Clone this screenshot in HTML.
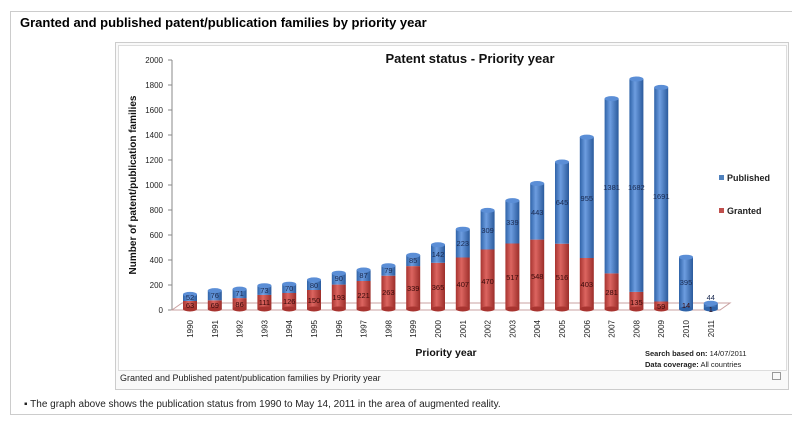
<!DOCTYPE html>
<html><head><meta charset="utf-8"><style>
body{margin:0;width:792px;height:427px;background:#fff;overflow:hidden;font-family:"Liberation Sans",sans-serif;position:relative}
.frame{position:absolute;left:10px;top:11px;width:790px;height:402px;border-top:1px solid #ccc;border-left:1px solid #ccc;border-bottom:1px solid #ccc}
.h{position:absolute;left:20px;top:15px;font-size:13px;font-weight:bold;color:#000}
.thumb{position:absolute;left:115px;top:42px;width:672px;height:346px;background:#f9f9f9;border:1px solid #ccc}
.img{position:absolute;left:118px;top:45px;width:667px;height:324px;background:#fff;border:1px solid #ddd}
.cap{position:absolute;left:120px;top:373px;font-size:9px;color:#222}
.note{position:absolute;left:24px;top:399px;font-size:10px;color:#222}
</style></head><body>
<div class="frame"></div>
<div class="h">Granted and published patent/publication families by priority year</div>
<div class="thumb"></div>
<div class="img"></div>
<div class="cap">Granted and Published patent/publication families by Priority year</div>
<div style="position:absolute;left:772px;top:372px;width:7px;height:6px;border:1px solid #999"></div>
<div class="note">▪ The graph above shows the publication status from 1990 to May 14, 2011 in the area of augmented reality.</div>
<svg width="792" height="427" style="position:absolute;left:0;top:0" font-family="Liberation Sans, sans-serif">
<defs>
<linearGradient id="b" x1="0" x2="1"><stop offset="0" stop-color="#2f63a8"/><stop offset="0.4" stop-color="#6d9de0"/><stop offset="1" stop-color="#2a5a9c"/></linearGradient>
<linearGradient id="r" x1="0" x2="1"><stop offset="0" stop-color="#a83430"/><stop offset="0.4" stop-color="#dc6560"/><stop offset="1" stop-color="#9c2e2a"/></linearGradient>
</defs>
<text x="470" y="63" font-size="13" font-weight="bold" text-anchor="middle" fill="#111">Patent status - Priority year</text>
<g font-size="8" fill="#222" text-anchor="end">
<text x="163" y="63">2000</text><text x="163" y="88">1800</text><text x="163" y="113">1600</text><text x="163" y="138">1400</text><text x="163" y="163">1200</text><text x="163" y="188">1000</text><text x="163" y="213">800</text><text x="163" y="238">600</text><text x="163" y="263">400</text><text x="163" y="288">200</text><text x="163" y="313">0</text>
</g>
<line x1="172" y1="60" x2="172" y2="310" stroke="#888"/>
<g stroke="#888"><line x1="168" y1="60" x2="172" y2="60"/><line x1="168" y1="85" x2="172" y2="85"/><line x1="168" y1="110" x2="172" y2="110"/><line x1="168" y1="135" x2="172" y2="135"/><line x1="168" y1="160" x2="172" y2="160"/><line x1="168" y1="185" x2="172" y2="185"/><line x1="168" y1="210" x2="172" y2="210"/><line x1="168" y1="235" x2="172" y2="235"/><line x1="168" y1="260" x2="172" y2="260"/><line x1="168" y1="285" x2="172" y2="285"/><line x1="168" y1="310" x2="172" y2="310"/></g>
<polygon points="172,310 182,303 730,303 720,310" fill="none" stroke="#c9a0a0"/>
<text transform="translate(136,185) rotate(-90)" font-size="10" font-weight="bold" text-anchor="middle" fill="#111">Number of patent/publication families</text>
<g>
<rect x="183" y="301" width="14" height="8" fill="url(#r)"/><rect x="183" y="294.4" width="14" height="6.6" fill="url(#b)"/><ellipse cx="190" cy="309" rx="7" ry="2.5" fill="#a83430"/><ellipse cx="190" cy="294.4" rx="7" ry="2.5" fill="#5b8ed6"/>
<rect x="207.8" y="300.3" width="14" height="8.7" fill="url(#r)"/><rect x="207.8" y="290.6" width="14" height="9.7" fill="url(#b)"/><ellipse cx="214.8" cy="309" rx="7" ry="2.5" fill="#a83430"/><ellipse cx="214.8" cy="290.6" rx="7" ry="2.5" fill="#5b8ed6"/>
<rect x="232.6" y="298.1" width="14" height="10.9" fill="url(#r)"/><rect x="232.6" y="289.1" width="14" height="9" fill="url(#b)"/><ellipse cx="239.6" cy="309" rx="7" ry="2.5" fill="#a83430"/><ellipse cx="239.6" cy="289.1" rx="7" ry="2.5" fill="#5b8ed6"/>
<rect x="257.4" y="294.9" width="14" height="14.1" fill="url(#r)"/><rect x="257.4" y="285.7" width="14" height="9.2" fill="url(#b)"/><ellipse cx="264.4" cy="309" rx="7" ry="2.5" fill="#a83430"/><ellipse cx="264.4" cy="285.7" rx="7" ry="2.5" fill="#5b8ed6"/>
<rect x="282.2" y="293" width="14" height="16" fill="url(#r)"/><rect x="282.2" y="284.2" width="14" height="8.8" fill="url(#b)"/><ellipse cx="289.2" cy="309" rx="7" ry="2.5" fill="#a83430"/><ellipse cx="289.2" cy="284.2" rx="7" ry="2.5" fill="#5b8ed6"/>
<rect x="307" y="290" width="14" height="19" fill="url(#r)"/><rect x="307" y="279.9" width="14" height="10.1" fill="url(#b)"/><ellipse cx="314" cy="309" rx="7" ry="2.5" fill="#a83430"/><ellipse cx="314" cy="279.9" rx="7" ry="2.5" fill="#5b8ed6"/>
<rect x="331.8" y="284.6" width="14" height="24.4" fill="url(#r)"/><rect x="331.8" y="273.2" width="14" height="11.4" fill="url(#b)"/><ellipse cx="338.8" cy="309" rx="7" ry="2.5" fill="#a83430"/><ellipse cx="338.8" cy="273.2" rx="7" ry="2.5" fill="#5b8ed6"/>
<rect x="356.6" y="281" width="14" height="28" fill="url(#r)"/><rect x="356.6" y="270" width="14" height="11" fill="url(#b)"/><ellipse cx="363.6" cy="309" rx="7" ry="2.5" fill="#a83430"/><ellipse cx="363.6" cy="270" rx="7" ry="2.5" fill="#5b8ed6"/>
<rect x="381.4" y="275.7" width="14" height="33.3" fill="url(#r)"/><rect x="381.4" y="265.7" width="14" height="10" fill="url(#b)"/><ellipse cx="388.4" cy="309" rx="7" ry="2.5" fill="#a83430"/><ellipse cx="388.4" cy="265.7" rx="7" ry="2.5" fill="#5b8ed6"/>
<rect x="406.2" y="266.1" width="14" height="42.9" fill="url(#r)"/><rect x="406.2" y="255.3" width="14" height="10.8" fill="url(#b)"/><ellipse cx="413.2" cy="309" rx="7" ry="2.5" fill="#a83430"/><ellipse cx="413.2" cy="255.3" rx="7" ry="2.5" fill="#5b8ed6"/>
<rect x="431" y="262.8" width="14" height="46.2" fill="url(#r)"/><rect x="431" y="244.8" width="14" height="18" fill="url(#b)"/><ellipse cx="438" cy="309" rx="7" ry="2.5" fill="#a83430"/><ellipse cx="438" cy="244.8" rx="7" ry="2.5" fill="#5b8ed6"/>
<rect x="455.8" y="257.5" width="14" height="51.5" fill="url(#r)"/><rect x="455.8" y="229.2" width="14" height="28.3" fill="url(#b)"/><ellipse cx="462.8" cy="309" rx="7" ry="2.5" fill="#a83430"/><ellipse cx="462.8" cy="229.2" rx="7" ry="2.5" fill="#5b8ed6"/>
<rect x="480.6" y="249.5" width="14" height="59.5" fill="url(#r)"/><rect x="480.6" y="210.4" width="14" height="39.1" fill="url(#b)"/><ellipse cx="487.6" cy="309" rx="7" ry="2.5" fill="#a83430"/><ellipse cx="487.6" cy="210.4" rx="7" ry="2.5" fill="#5b8ed6"/>
<rect x="505.4" y="243.5" width="14" height="65.5" fill="url(#r)"/><rect x="505.4" y="200.6" width="14" height="42.9" fill="url(#b)"/><ellipse cx="512.4" cy="309" rx="7" ry="2.5" fill="#a83430"/><ellipse cx="512.4" cy="200.6" rx="7" ry="2.5" fill="#5b8ed6"/>
<rect x="530.2" y="239.6" width="14" height="69.4" fill="url(#r)"/><rect x="530.2" y="183.5" width="14" height="56.1" fill="url(#b)"/><ellipse cx="537.2" cy="309" rx="7" ry="2.5" fill="#a83430"/><ellipse cx="537.2" cy="183.5" rx="7" ry="2.5" fill="#5b8ed6"/>
<rect x="555" y="243.7" width="14" height="65.3" fill="url(#r)"/><rect x="555" y="162" width="14" height="81.7" fill="url(#b)"/><ellipse cx="562" cy="309" rx="7" ry="2.5" fill="#a83430"/><ellipse cx="562" cy="162" rx="7" ry="2.5" fill="#5b8ed6"/>
<rect x="579.8" y="258" width="14" height="51" fill="url(#r)"/><rect x="579.8" y="137.1" width="14" height="120.9" fill="url(#b)"/><ellipse cx="586.8" cy="309" rx="7" ry="2.5" fill="#a83430"/><ellipse cx="586.8" cy="137.1" rx="7" ry="2.5" fill="#5b8ed6"/>
<rect x="604.6" y="273.4" width="14" height="35.6" fill="url(#r)"/><rect x="604.6" y="98.6" width="14" height="174.8" fill="url(#b)"/><ellipse cx="611.6" cy="309" rx="7" ry="2.5" fill="#a83430"/><ellipse cx="611.6" cy="98.6" rx="7" ry="2.5" fill="#5b8ed6"/>
<rect x="629.4" y="291.9" width="14" height="17.1" fill="url(#r)"/><rect x="629.4" y="79" width="14" height="212.9" fill="url(#b)"/><ellipse cx="636.4" cy="309" rx="7" ry="2.5" fill="#a83430"/><ellipse cx="636.4" cy="79" rx="7" ry="2.5" fill="#5b8ed6"/>
<rect x="654.2" y="301.5" width="14" height="7.5" fill="url(#r)"/><rect x="654.2" y="87.4" width="14" height="214.1" fill="url(#b)"/><ellipse cx="661.2" cy="309" rx="7" ry="2.5" fill="#a83430"/><ellipse cx="661.2" cy="87.4" rx="7" ry="2.5" fill="#5b8ed6"/>
<rect x="679" y="257.2" width="14" height="51.8" fill="url(#b)"/><ellipse cx="686" cy="309" rx="7" ry="2.5" fill="#2f63a8"/><ellipse cx="686" cy="257.2" rx="7" ry="2.5" fill="#5b8ed6"/>
<rect x="703.8" y="303.3" width="14" height="5.7" fill="url(#b)"/><ellipse cx="710.8" cy="309" rx="7" ry="2.5" fill="#2f63a8"/><ellipse cx="710.8" cy="303.3" rx="7" ry="2.5" fill="#5b8ed6"/>
</g>
<g font-size="7.5" fill="#1a2a50" text-anchor="middle">
<text x="190" y="300">52</text><text x="214.8" y="298">76</text><text x="239.6" y="296">71</text><text x="264.4" y="293">73</text><text x="289.2" y="291">70</text><text x="314" y="288">80</text><text x="338.8" y="281">90</text><text x="363.6" y="278">87</text><text x="388.4" y="273">79</text><text x="413.2" y="263">85</text><text x="438" y="257">142</text><text x="462.8" y="246">223</text><text x="487.6" y="233">309</text><text x="512.4" y="225">339</text><text x="537.2" y="215">443</text><text x="562" y="205">645</text><text x="586.8" y="201">955</text><text x="611.6" y="190">1381</text><text x="636.4" y="190">1682</text><text x="661.2" y="199">1691</text><text x="686" y="285">395</text><text x="710.8" y="300">44</text>
</g>
<g font-size="7.5" fill="#3a0a0a" text-anchor="middle">
<text x="190" y="308">63</text><text x="214.8" y="308">69</text><text x="239.6" y="307">86</text><text x="264.4" y="305">111</text><text x="289.2" y="304">126</text><text x="314" y="303">150</text><text x="338.8" y="300">193</text><text x="363.6" y="298">221</text><text x="388.4" y="295">263</text><text x="413.2" y="291">339</text><text x="438" y="290">365</text><text x="462.8" y="287">407</text><text x="487.6" y="284">470</text><text x="512.4" y="280">517</text><text x="537.2" y="279">548</text><text x="562" y="280">516</text><text x="586.8" y="287">403</text><text x="611.6" y="295">281</text><text x="636.4" y="305">135</text><text x="661.2" y="309">59</text><text x="686" y="308">14</text><text x="710.8" y="312">1</text>
</g>
<g font-size="8" fill="#222" text-anchor="end">
<text transform="translate(193,320) rotate(-90)">1990</text><text transform="translate(217.8,320) rotate(-90)">1991</text><text transform="translate(242.6,320) rotate(-90)">1992</text><text transform="translate(267.4,320) rotate(-90)">1993</text><text transform="translate(292.2,320) rotate(-90)">1994</text><text transform="translate(317,320) rotate(-90)">1995</text><text transform="translate(341.8,320) rotate(-90)">1996</text><text transform="translate(366.6,320) rotate(-90)">1997</text><text transform="translate(391.4,320) rotate(-90)">1998</text><text transform="translate(416.2,320) rotate(-90)">1999</text><text transform="translate(441,320) rotate(-90)">2000</text><text transform="translate(465.8,320) rotate(-90)">2001</text><text transform="translate(490.6,320) rotate(-90)">2002</text><text transform="translate(515.4,320) rotate(-90)">2003</text><text transform="translate(540.2,320) rotate(-90)">2004</text><text transform="translate(565,320) rotate(-90)">2005</text><text transform="translate(589.8,320) rotate(-90)">2006</text><text transform="translate(614.6,320) rotate(-90)">2007</text><text transform="translate(639.4,320) rotate(-90)">2008</text><text transform="translate(664.2,320) rotate(-90)">2009</text><text transform="translate(689,320) rotate(-90)">2010</text><text transform="translate(713.8,320) rotate(-90)">2011</text>
</g>
<text x="446" y="356" font-size="10.5" font-weight="bold" text-anchor="middle" fill="#111">Priority year</text>
<rect x="719" y="175" width="5" height="5" fill="#4f81bd"/><text x="727" y="181" font-size="9" font-weight="bold" fill="#222">Published</text>
<rect x="719" y="208" width="5" height="5" fill="#c0504d"/><text x="727" y="214" font-size="9" font-weight="bold" fill="#222">Granted</text>
<text x="645" y="356" font-size="7.5" fill="#222"><tspan font-weight="bold">Search based on:</tspan> 14/07/2011</text>
<text x="645" y="367" font-size="7.5" fill="#222"><tspan font-weight="bold">Data coverage:</tspan> All countries</text>
</svg>
</body></html>
